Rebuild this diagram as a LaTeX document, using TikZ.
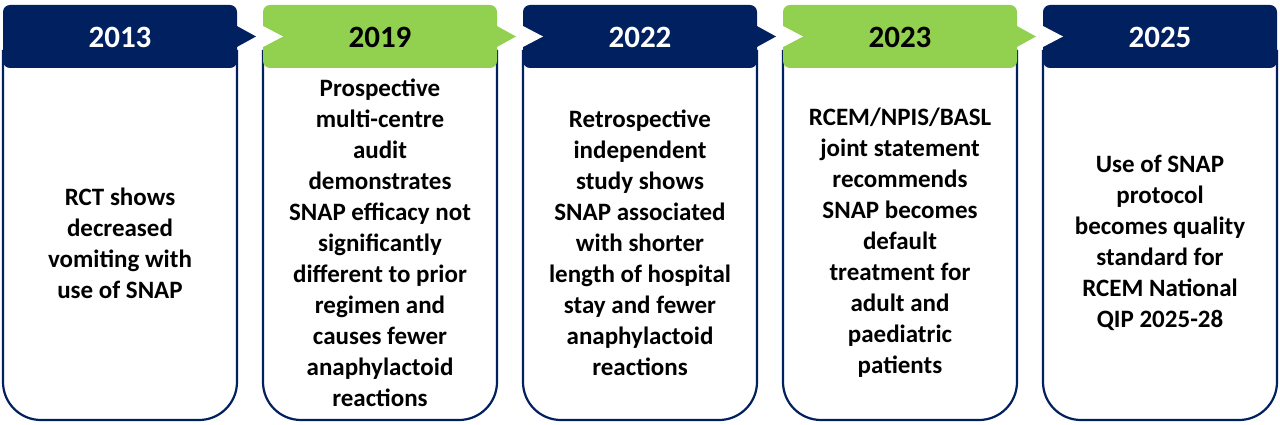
\documentclass[tikz,border=0pt]{standalone}
\usepackage{fontspec}
\setmainfont{Carlito}
\definecolor{navy}{HTML}{002060}
\definecolor{lgreen}{HTML}{92D050}
\tikzset{
  yearlbl/.style={font=\fontsize{31}{37}\selectfont\bfseries, anchor=center, inner sep=0pt},
  bodylbl/.style={font=\fontsize{25}{31}\selectfont\bfseries, align=center, text=black, inner sep=0pt},
  outline/.style={draw=navy, line width=2.2pt},
  hdr/.style={rounded corners=7pt},
}
\begin{document}
\begin{tikzpicture}[x=1pt,y=1pt]
\useasboundingbox (0,0) rectangle (1280,-425);
\fill[white] (0,0) rectangle (1280,-425);
% body outlines and headers
\foreach \L/\c in {3/navy,263/lgreen,523/navy,783/lgreen,1043/navy}{
  \draw[outline] (\L,-50) -- (\L,-382) arc[start angle=180,end angle=270,radius=38]
     -- ({\L+196},-420) arc[start angle=270,end angle=360,radius=38] -- ({\L+234},-50);
  \fill[\c, hdr] (\L,-5) rectangle ({\L+234},-68);
}
% arrow points
\foreach \L/\c in {3/navy,263/lgreen,523/navy,783/lgreen}{
  \fill[\c] ({\L+233},-25.5) -- ({\L+253},-36.5) -- ({\L+233},-47.5) -- cycle;
}
% notches
\foreach \L in {263,523,783,1043}{
  \fill[white] ({\L-1},-25.5) -- ({\L+20},-36.5) -- ({\L-1},-47.5) -- cycle;
}
% years
\node[yearlbl, text=white] (y1) at (120,-37) {2013};
\node[yearlbl, text=black] (y2) at (380,-37) {2019};
\node[yearlbl, text=white] (y3) at (640,-37) {2022};
\node[yearlbl, text=black] (y4) at (900,-37) {2023};
\node[yearlbl, text=white] (y5) at (1160,-37) {2025};
% texts
\node[bodylbl] (t1) at (120,-243) {RCT shows\\decreased\\vomiting with\\use of SNAP};
\node[bodylbl] (t2) at (380,-243) {Prospective\\multi-centre\\audit\\demonstrates\\SNAP efficacy not\\significantly\\different to prior\\regimen and\\causes fewer\\anaphylactoid\\reactions};
\node[bodylbl] (t3) at (640,-243) {Retrospective\\independent\\study shows\\SNAP associated\\with shorter\\length of hospital\\stay and fewer\\anaphylactoid\\reactions};
\node[bodylbl] (t4) at (900,-243) {RCEM/NPIS/BASL\\joint statement\\recommends\\SNAP becomes\\default\\treatment for\\adult and\\paediatric\\patients};
\node[bodylbl] (t5) at (1160,-243) {Use of SNAP\\protocol\\becomes quality\\standard for\\RCEM National\\QIP 2025-28};
\end{tikzpicture}
\end{document}
